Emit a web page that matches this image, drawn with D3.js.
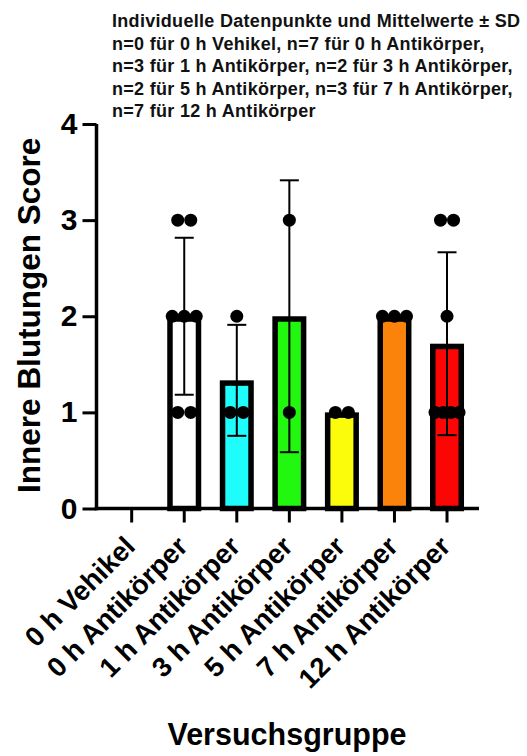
<!DOCTYPE html>
<html>
<head>
<meta charset="utf-8">
<script src="https://cdn.jsdelivr.net/npm/d3@7"></script>
<style>
  body { margin: 0; background: #fff; }
  svg { display: block; font-family: "Liberation Sans", Arial, sans-serif; }
</style>
</head>
<body>
<svg id="chart" width="527" height="756"></svg>
<script>
// groups on the x axis
var groups = ["0 h Vehikel", "0 h Antikörper", "1 h Antikörper", "3 h Antikörper",
              "5 h Antikörper", "7 h Antikörper", "12 h Antikörper"];

// individual scores per group
var vehikel0h      = [];
var antikoerper0h  = [3, 3, 2, 2, 2, 1, 1];
var antikoerper1h  = [2, 1, 1];
var antikoerper3h  = [3, 1];
var antikoerper5h  = [1, 1];
var antikoerper7h  = [2, 2, 2];
var antikoerper12h = [3, 3, 2, 1, 1, 1, 1];

var yTicks = [0, 1, 2, 3, 4];

var titleLines = [
  "Individuelle Datenpunkte und Mittelwerte ± SD",
  "n=0 für 0 h Vehikel, n=7 für 0 h Antikörper,",
  "n=3 für 1 h Antikörper, n=2 für 3 h Antikörper,",
  "n=2 für 5 h Antikörper, n=3 für 7 h Antikörper,",
  "n=7 für 12 h Antikörper"
];

var farben = ["#ffffff", "#ffffff", "#1ffcfc", "#22f70f", "#fbfb0c", "#fb830b", "#fb0505"];

var samples = [vehikel0h, antikoerper0h, antikoerper1h, antikoerper3h,
               antikoerper5h, antikoerper7h, antikoerper12h];

var table = groups.map(function(g, i) {
  var v = samples[i];
  return {
    group: g,
    values: v,
    mean: v.length ? d3.mean(v) : null,
    sd: v.length > 1 ? d3.deviation(v) : 0,
    color: farben[i]
  };
});

var svg = d3.select("#chart");

var axisX = 96.5;
var x = d3.scaleBand().domain(groups).range([105.4, 473.3]);
var y = d3.scaleLinear().domain([0, 4]).range([508.5, 124]);
var cx = function(d) { return x(d.group) + x.bandwidth() / 2; };

// title block
svg.append("g")
  .selectAll("text")
  .data(titleLines)
  .enter().append("text")
    .attr("x", 112)
    .attr("y", function(d, i) { return 27 + i * 22.6; })
    .attr("font-size", 18)
    .attr("font-weight", "bold")
    .attr("letter-spacing", 0.3)
    .attr("fill", "#111")
    .text(function(d) { return d; });

// bars
var barW = 28.5;
svg.append("g")
  .selectAll("rect")
  .data(table.filter(function(d) { return d.mean !== null; }))
  .enter().append("rect")
    .attr("x", function(d) { return cx(d) - barW / 2; })
    .attr("y", function(d) { return y(d.mean) + 2.75; })
    .attr("width", barW)
    .attr("height", function(d) { return y(0) - y(d.mean) - 2.75; })
    .attr("fill", function(d) { return d.color; })
    .attr("stroke", "#000")
    .attr("stroke-width", 5.5);

// error bars (mean ± SD)
var err = svg.append("g")
  .selectAll("g")
  .data(table.filter(function(d) { return d.mean !== null && d.sd > 0; }))
  .enter().append("g")
    .attr("stroke", "#000")
    .attr("stroke-width", 2);

err.append("line")
  .attr("x1", cx).attr("x2", cx)
  .attr("y1", function(d) { return y(d.mean - d.sd); })
  .attr("y2", function(d) { return y(d.mean + d.sd); });

err.selectAll("line.cap")
  .data(function(d) { return [{ c: cx(d), v: d.mean + d.sd }, { c: cx(d), v: d.mean - d.sd }]; })
  .enter().append("line")
    .attr("class", "cap")
    .attr("x1", function(d) { return d.c - 9.5; })
    .attr("x2", function(d) { return d.c + 9.5; })
    .attr("y1", function(d) { return y(d.v); })
    .attr("y2", function(d) { return y(d.v); });

// individual points, spread sideways when scores tie
var dots = [];
table.forEach(function(d) {
  var counts = d3.rollup(d.values, function(v) { return v.length; }, function(v) { return v; });
  var seen = new Map();
  d.values.forEach(function(v) {
    var m = counts.get(v), k = seen.get(v) || 0;
    seen.set(v, k + 1);
    var step = m <= 2 ? 13 : 24 / (m - 1);
    dots.push({ c: cx(d) + (k - (m - 1) / 2) * step, v: v });
  });
});

svg.append("g")
  .selectAll("circle")
  .data(dots)
  .enter().append("circle")
    .attr("cx", function(d) { return d.c; })
    .attr("cy", function(d) { return y(d.v); })
    .attr("r", 6.5)
    .attr("fill", "#000");

// y axis
var yAxis = svg.append("g")
  .attr("transform", "translate(" + axisX + ",0)")
  .call(d3.axisLeft(y).tickValues(yTicks).tickFormat(d3.format("d")).tickSize(14).tickSizeOuter(0).tickPadding(5));
yAxis.select(".domain").attr("stroke-width", 3.5).attr("d", "M0," + (y(0) + 1.75) + "V" + y(4));
yAxis.selectAll(".tick line").attr("stroke-width", 3);
yAxis.selectAll(".tick text")
  .attr("font-size", 30)
  .attr("font-weight", "bold")
  .attr("font-family", "Liberation Sans, Arial, sans-serif")
  .attr("fill", "#000");

// x axis
var xAxis = svg.append("g")
  .attr("transform", "translate(0," + y(0) + ")")
  .call(d3.axisBottom(x).tickSize(14).tickSizeOuter(0).tickFormat(""));
xAxis.select(".domain").attr("stroke-width", 3.5).attr("d", "M" + (axisX - 1.75) + ",0H479");
xAxis.selectAll(".tick line").attr("stroke-width", 3);

svg.append("g")
  .selectAll("text")
  .data(groups)
  .enter().append("text")
    .attr("transform", function(d) {
      return "translate(" + (x(d) + x.bandwidth() / 2 + 5) + "," + (y(0) + 39.5) + ") rotate(-45)";
    })
    .attr("text-anchor", "end")
    .attr("font-size", 27.5)
    .attr("font-weight", "bold")
    .text(function(d) { return d; });

// axis titles
svg.append("text")
  .attr("transform", "translate(40," + ((y(0) + y(4)) / 2 - 1) + ") rotate(-90)")
  .attr("text-anchor", "middle")
  .attr("font-size", 31.5)
  .attr("font-weight", "bold")
  .text("Innere Blutungen Score");

svg.append("text")
  .attr("x", 287)
  .attr("y", 745)
  .attr("text-anchor", "middle")
  .attr("font-size", 30.5)
  .attr("font-weight", "bold")
  .text("Versuchsgruppe");
</script>
</body>
</html>
